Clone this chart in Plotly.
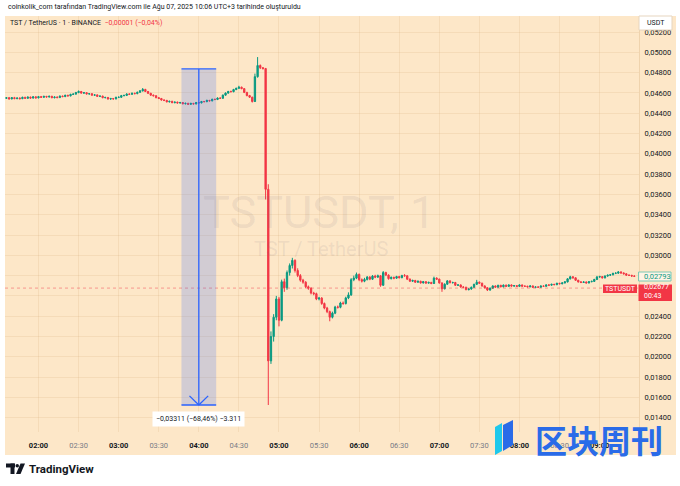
import pandas as pd
import plotly.graph_objects as go

# ---------------- texts ----------------
TITLE = "coinkolik_com tarafından TradingView.com ile Ağu 07, 2025 10:06 UTC+3 tarihinde oluşturuldu"
SYMBOL_LINE = "TST / TetherUS · 1 · BINANCE"
CHANGE_TEXT = "−0,00001 (−0,04%)"
WATERMARK_1 = "TSTUSDT, 1"
WATERMARK_2 = "TST / TetherUS"
CURRENCY = "USDT"
SYMBOL = "TSTUSDT"
RULER_TEXT = "−0,03311 (−68,46%) −3.311"
COUNTDOWN = "00:43"

# ---------------- data (prices in 1e-5 USDT, 2-minute candles) ----------------
DAY = "2025-08-07"
START = "2025-08-07 01:36"
FREQ = "2min"
UNIT = 1e-5

OPEN = [
    4547, 4552, 4541, 4553, 4544, 4549, 4543, 4556, 4547, 4558,
    4549, 4561, 4551, 4563, 4557, 4565, 4560, 4566, 4553, 4559,
    4554, 4568, 4564, 4576, 4571, 4585, 4588, 4603, 4614, 4598,
    4602, 4590, 4592, 4578, 4580, 4566, 4568, 4553, 4555, 4540,
    4544, 4541, 4556, 4557, 4573, 4575, 4589, 4586, 4596, 4593,
    4606, 4620, 4634, 4614, 4596, 4578, 4572, 4553, 4545, 4530,
    4526, 4512, 4517, 4504, 4509, 4501, 4505, 4493, 4497, 4488,
    4496, 4492, 4505, 4502, 4515, 4514, 4526, 4522, 4537, 4535,
    4549, 4547, 4578, 4598, 4614, 4612, 4633, 4645, 4656, 4642,
    4605, 4574, 4558, 4515, 4760, 4870, 4848, 4840, 3650, 1960,
    2200, 2390, 2570, 2360, 2740, 2680, 2830, 2900, 2950, 2850,
    2800, 2755, 2735, 2690, 2675, 2628, 2622, 2570, 2578, 2525,
    2480, 2445, 2390, 2430, 2490, 2488, 2530, 2525, 2580, 2610,
    2760, 2775, 2812, 2760, 2745, 2762, 2785, 2765, 2795, 2785,
    2798, 2705, 2830, 2805, 2770, 2782, 2775, 2790, 2780, 2800,
    2798, 2765, 2745, 2752, 2735, 2744, 2728, 2740, 2726, 2733,
    2722, 2775, 2765, 2728, 2670, 2715, 2748, 2730, 2732, 2705,
    2708, 2688, 2685, 2662, 2668, 2685, 2714, 2735, 2725, 2698,
    2680, 2658, 2676, 2698, 2686, 2704, 2690, 2706, 2694, 2708,
    2697, 2701, 2694, 2708, 2696, 2695, 2690, 2698, 2684, 2688,
    2686, 2697, 2695, 2708, 2706, 2714, 2711, 2724, 2720, 2728,
    2738, 2768, 2788, 2778, 2754, 2738, 2733, 2737, 2728, 2740,
    2743, 2762, 2786, 2790, 2778, 2796, 2804, 2808, 2822, 2824,
    2836, 2826, 2818, 2804, 2802, 2796,
]
HIGH = [
    4559, 4560, 4558, 4561, 4555, 4556, 4563, 4562, 4566, 4564,
    4568, 4567, 4570, 4570, 4573, 4571, 4574, 4572, 4566, 4565,
    4575, 4574, 4583, 4582, 4592, 4596, 4610, 4624, 4619, 4609,
    4607, 4599, 4597, 4587, 4585, 4575, 4573, 4562, 4560, 4551,
    4550, 4563, 4564, 4580, 4582, 4596, 4595, 4603, 4602, 4613,
    4627, 4648, 4640, 4619, 4601, 4584, 4577, 4559, 4550, 4536,
    4531, 4523, 4522, 4515, 4514, 4512, 4510, 4504, 4502, 4503,
    4502, 4511, 4510, 4521, 4521, 4533, 4531, 4543, 4543, 4556,
    4555, 4584, 4605, 4620, 4622, 4640, 4652, 4670, 4662, 4647,
    4610, 4580, 4562, 4790, 4953, 4880, 4855, 4846, 3700, 2250,
    2420, 2600, 2590, 2760, 2770, 2850, 2920, 2975, 2960, 2872,
    2815, 2768, 2745, 2702, 2685, 2640, 2632, 2590, 2588, 2535,
    2492, 2455, 2445, 2502, 2505, 2542, 2545, 2592, 2635, 2775,
    2800, 2830, 2820, 2772, 2778, 2796, 2795, 2805, 2808, 2810,
    2805, 2845, 2838, 2812, 2792, 2790, 2798, 2797, 2808, 2815,
    2804, 2772, 2760, 2758, 2751, 2749, 2747, 2745, 2740, 2738,
    2790, 2783, 2770, 2733, 2724, 2756, 2754, 2740, 2738, 2715,
    2713, 2694, 2690, 2675, 2692, 2720, 2758, 2742, 2730, 2704,
    2685, 2683, 2704, 2703, 2710, 2709, 2712, 2711, 2714, 2713,
    2707, 2706, 2714, 2712, 2702, 2700, 2704, 2703, 2694, 2693,
    2703, 2703, 2714, 2713, 2720, 2719, 2730, 2729, 2734, 2746,
    2775, 2798, 2795, 2783, 2759, 2745, 2744, 2742, 2746, 2750,
    2768, 2797, 2798, 2795, 2802, 2810, 2815, 2828, 2832, 2844,
    2842, 2832, 2823, 2811, 2808, 2802,
]
LOW = [
    4541, 4535, 4536, 4538, 4537, 4536, 4539, 4541, 4542, 4543,
    4544, 4545, 4546, 4550, 4551, 4553, 4554, 4547, 4546, 4547,
    4549, 4557, 4558, 4564, 4565, 4579, 4582, 4597, 4592, 4591,
    4584, 4583, 4572, 4571, 4560, 4559, 4547, 4546, 4534, 4532,
    4535, 4536, 4549, 4551, 4566, 4569, 4579, 4580, 4586, 4587,
    4600, 4614, 4608, 4590, 4572, 4565, 4547, 4539, 4524, 4519,
    4506, 4505, 4498, 4497, 4495, 4494, 4487, 4486, 4481, 4482,
    4485, 4486, 4495, 4496, 4507, 4508, 4515, 4516, 4528, 4529,
    4540, 4542, 4572, 4592, 4605, 4606, 4627, 4639, 4636, 4598,
    4566, 4550, 4505, 4510, 4750, 4835, 4830, 3550, 1525, 1930,
    2150, 2360, 2300, 2350, 2640, 2660, 2800, 2870, 2830, 2785,
    2740, 2720, 2678, 2660, 2615, 2606, 2558, 2556, 2512, 2468,
    2430, 2350, 2378, 2420, 2475, 2478, 2512, 2515, 2568, 2600,
    2745, 2765, 2745, 2732, 2735, 2752, 2755, 2757, 2775, 2776,
    2690, 2698, 2795, 2760, 2762, 2764, 2768, 2772, 2773, 2790,
    2756, 2738, 2738, 2728, 2729, 2721, 2722, 2719, 2720, 2715,
    2717, 2758, 2720, 2640, 2664, 2710, 2724, 2722, 2698, 2698,
    2681, 2677, 2655, 2654, 2661, 2679, 2708, 2718, 2691, 2672,
    2648, 2651, 2670, 2680, 2680, 2684, 2684, 2688, 2689, 2691,
    2690, 2688, 2689, 2690, 2688, 2683, 2684, 2678, 2677, 2679,
    2680, 2688, 2689, 2699, 2700, 2705, 2705, 2713, 2714, 2722,
    2732, 2762, 2771, 2747, 2731, 2726, 2727, 2722, 2722, 2734,
    2737, 2756, 2779, 2771, 2772, 2789, 2798, 2802, 2815, 2818,
    2820, 2811, 2798, 2796, 2789, 2787,
]
CLOSE = [
    4552, 4541, 4553, 4544, 4549, 4543, 4556, 4547, 4558, 4549,
    4561, 4551, 4563, 4557, 4565, 4560, 4566, 4553, 4559, 4554,
    4568, 4564, 4576, 4571, 4585, 4588, 4603, 4614, 4598, 4602,
    4590, 4592, 4578, 4580, 4566, 4568, 4553, 4555, 4540, 4544,
    4541, 4556, 4557, 4573, 4575, 4589, 4586, 4596, 4593, 4606,
    4620, 4634, 4614, 4596, 4578, 4572, 4553, 4545, 4530, 4526,
    4512, 4517, 4504, 4509, 4501, 4505, 4493, 4497, 4488, 4496,
    4492, 4505, 4502, 4515, 4514, 4526, 4522, 4537, 4535, 4549,
    4547, 4578, 4598, 4614, 4612, 4633, 4645, 4656, 4642, 4605,
    4574, 4558, 4515, 4760, 4870, 4848, 4840, 3650, 1960, 2200,
    2390, 2570, 2360, 2740, 2680, 2830, 2900, 2950, 2850, 2800,
    2755, 2735, 2690, 2675, 2628, 2622, 2570, 2578, 2525, 2480,
    2445, 2390, 2430, 2490, 2488, 2530, 2525, 2580, 2610, 2760,
    2775, 2812, 2760, 2745, 2762, 2785, 2765, 2795, 2785, 2798,
    2705, 2830, 2805, 2770, 2782, 2775, 2790, 2780, 2800, 2798,
    2765, 2745, 2752, 2735, 2744, 2728, 2740, 2726, 2733, 2722,
    2775, 2765, 2728, 2670, 2715, 2748, 2730, 2732, 2705, 2708,
    2688, 2685, 2662, 2668, 2685, 2714, 2735, 2725, 2698, 2680,
    2658, 2676, 2698, 2686, 2704, 2690, 2706, 2694, 2708, 2697,
    2701, 2694, 2708, 2696, 2695, 2690, 2698, 2684, 2688, 2686,
    2697, 2695, 2708, 2706, 2714, 2711, 2724, 2720, 2728, 2738,
    2768, 2788, 2778, 2754, 2738, 2733, 2737, 2728, 2740, 2743,
    2762, 2786, 2790, 2778, 2796, 2804, 2808, 2822, 2824, 2836,
    2826, 2818, 2804, 2802, 2796, 2793,
]
assert len(OPEN) == len(HIGH) == len(LOW) == len(CLOSE)

X_TICK_LABELS = ["02:00", "02:30", "03:00", "03:30", "04:00", "04:30", "05:00", "05:30",
                 "06:00", "06:30", "07:00", "07:30", "08:00", "08:30", "09:00"]
Y_TICKS = [0.014, 0.016, 0.018, 0.020, 0.022, 0.024, 0.026, 0.028, 0.030, 0.032,
           0.034, 0.036, 0.038, 0.040, 0.042, 0.044, 0.046, 0.048, 0.050, 0.052]
# 0,02600 and 0,02800 are hidden behind the price labels in the reference
Y_TICK_LABELS = ["0,01400", "0,01600", "0,01800", "0,02000", "0,02200", "0,02400", "",
                 "", "0,03000", "0,03200", "0,03400", "0,03600", "0,03800", "0,04000",
                 "0,04200", "0,04400", "0,04600", "0,04800", "0,05000", "0,05200"]

LAST_PRICE = 0.02677
LAST_PRICE_LABEL = "0,02677"
MARK_PRICE = 0.02793
MARK_PRICE_LABEL = "0,02793"

RULER_START = "2025-08-07 03:47"
RULER_END = "2025-08-07 04:13"
RULER_HIGH = 0.04836
RULER_LOW = 0.01525

X_RANGE = ["2025-08-07 01:34:56", "2025-08-07 09:29:28"]
Y_RANGE = [0.012591, 0.053576]

# ---------------- style ----------------
FONT = "Roboto, Liberation Sans, sans-serif"
BG = "#FDE7C8"
GRID = "rgba(200,150,90,0.14)"
TEXT = "#131722"
MUTED = "#787B86"
UP = "#089981"
DOWN = "#F23645"
BLUE = "#2962FF"
W, H = 680, 486
PL, PR, PT, PB = 5, 639, 16, 432


def px(x):
    return (x - PL) / (PR - PL)


def py(y):
    return (PB - y) / (PB - PT)


times = pd.date_range(START, periods=len(CLOSE), freq=FREQ)
o = [v * UNIT for v in OPEN]
h = [v * UNIT for v in HIGH]
l = [v * UNIT for v in LOW]
c = [v * UNIT for v in CLOSE]

fig = go.Figure()
fig.add_trace(go.Candlestick(
    x=times, open=o, high=h, low=l, close=c,
    increasing=dict(line=dict(color=UP, width=1), fillcolor=UP),
    decreasing=dict(line=dict(color=DOWN, width=1), fillcolor=DOWN),
    whiskerwidth=0, showlegend=False, hoverinfo="skip",
))

xt_vals = [f"{DAY} {t}" for t in X_TICK_LABELS]
xt_text = [f"<b>{t}</b>" if t.endswith(":00") else f"<span style='color:{MUTED}'>{t}</span>"
           for t in X_TICK_LABELS]

rs, re_ = pd.Timestamp(RULER_START), pd.Timestamp(RULER_END)
rmid = rs + (re_ - rs) / 2
arrow_dx = pd.Timedelta(minutes=7)
arrow_dy = 0.0009

shapes = [
    dict(type="rect", xref="paper", yref="paper", x0=px(5), x1=px(676), y0=py(455), y1=py(PT),
         fillcolor=BG, line=dict(width=0), layer="below"),
    # last price line
    dict(type="line", xref="paper", yref="y", x0=0, x1=1, y0=LAST_PRICE, y1=LAST_PRICE,
         line=dict(color="rgba(242,54,69,0.45)", width=1, dash="dot")),
    # ruler
    dict(type="rect", xref="x", yref="y", x0=rs, x1=re_, y0=RULER_LOW, y1=RULER_HIGH,
         fillcolor="rgba(41,98,255,0.2)", line=dict(width=0)),
    dict(type="line", xref="x", yref="y", x0=rs, x1=re_, y0=RULER_HIGH, y1=RULER_HIGH,
         line=dict(color=BLUE, width=1.3)),
    dict(type="line", xref="x", yref="y", x0=rs, x1=re_, y0=RULER_LOW, y1=RULER_LOW,
         line=dict(color=BLUE, width=1.3)),
    dict(type="line", xref="x", yref="y", x0=rmid, x1=rmid, y0=RULER_HIGH, y1=RULER_LOW,
         line=dict(color=BLUE, width=1.3)),
    dict(type="line", xref="x", yref="y", x0=rmid - arrow_dx, x1=rmid, y0=RULER_LOW + arrow_dy, y1=RULER_LOW,
         line=dict(color=BLUE, width=1.3)),
    dict(type="line", xref="x", yref="y", x0=rmid + arrow_dx, x1=rmid, y0=RULER_LOW + arrow_dy, y1=RULER_LOW,
         line=dict(color=BLUE, width=1.3)),
    # USDT box
    dict(type="rect", xref="paper", yref="paper", x0=px(639), x1=px(672), y0=py(30), y1=py(PT),
         fillcolor="white", line=dict(color="#E6D5BF", width=1), layer="above"),
    # green price label
    dict(type="rect", xref="paper", yref="paper", x0=px(638.5), x1=px(671), y0=py(281), y1=py(272),
         fillcolor="rgba(255,255,255,0.55)", line=dict(color="#7CC9B5", width=1), layer="above"),
    # red price label
    dict(type="rect", xref="paper", yref="paper", x0=px(638.5), x1=px(672), y0=py(301), y1=py(284.5),
         fillcolor=DOWN, line=dict(width=0), layer="above"),
    dict(type="rect", xref="paper", yref="paper", x0=px(603), x1=px(637), y0=py(293), y1=py(284.5),
         fillcolor=DOWN, line=dict(width=0), layer="above"),
    # TradingView logo
    dict(type="rect", xref="paper", yref="paper", x0=px(6), x1=px(15), y0=py(467.5), y1=py(463.5),
         fillcolor=TEXT, line=dict(width=0), layer="above"),
    dict(type="rect", xref="paper", yref="paper", x0=px(10.5), x1=px(14.5), y0=py(474), y1=py(463.5),
         fillcolor=TEXT, line=dict(width=0), layer="above"),
    dict(type="circle", xref="paper", yref="paper", x0=px(15.5), x1=px(19), y0=py(467.5), y1=py(464),
         fillcolor=TEXT, line=dict(width=0), layer="above"),
    dict(type="path", xref="paper", yref="paper",
         path=f"M {px(20.5)} {py(463.5)} L {px(25)} {py(463.5)} L {px(20.5)} {py(474)} L {px(16)} {py(474)} Z",
         fillcolor=TEXT, line=dict(width=0), layer="above"),
    # site watermark logo bars
    dict(type="path", xref="paper", yref="paper",
         path=f"M {px(495)} {py(455)} L {px(502)} {py(451)} L {px(502)} {py(423)} L {px(495)} {py(427)} Z",
         fillcolor="#1EC8EC", line=dict(width=0), layer="above"),
    dict(type="path", xref="paper", yref="paper",
         path=f"M {px(503)} {py(451)} L {px(513)} {py(445)} L {px(513)} {py(420)} L {px(503)} {py(425)} Z",
         fillcolor="#2A6BE8", line=dict(width=0), layer="above"),
]

ann = [
    dict(text=TITLE, xref="paper", yref="paper", x=px(6), y=py(7), xanchor="left", yanchor="middle",
         showarrow=False, font=dict(size=7, color=TEXT)),
    dict(text=f"{SYMBOL_LINE}  <span style='color:{DOWN}'>{CHANGE_TEXT}</span>", xref="paper", yref="paper",
         x=px(8), y=py(22.5), xanchor="left", yanchor="middle", showarrow=False, font=dict(size=7, color=TEXT)),
    dict(text=WATERMARK_1, xref="paper", yref="paper", x=px(319), y=py(212), xanchor="center", yanchor="middle",
         showarrow=False, font=dict(size=45, color="rgba(105,100,115,0.11)")),
    dict(text=WATERMARK_2, xref="paper", yref="paper", x=px(321), y=py(249), xanchor="center", yanchor="middle",
         showarrow=False, font=dict(size=20, color="rgba(105,100,115,0.11)")),
    dict(text=CURRENCY, xref="paper", yref="paper", x=px(655.5), y=py(23), xanchor="center", yanchor="middle",
         showarrow=False, font=dict(size=7, color=TEXT)),
    dict(text=MARK_PRICE_LABEL, xref="paper", yref="y", x=px(642), y=MARK_PRICE, xanchor="left", yanchor="middle",
         showarrow=False, font=dict(size=7.5, color=UP)),
    dict(text=LAST_PRICE_LABEL, xref="paper", yref="y", x=px(642), y=LAST_PRICE, yshift=1, xanchor="left",
         yanchor="middle", showarrow=False, font=dict(size=7, color="white")),
    dict(text=COUNTDOWN, xref="paper", yref="y", x=px(642), y=LAST_PRICE, yshift=-7.5, xanchor="left",
         yanchor="middle", showarrow=False, font=dict(size=7, color="white")),
    dict(text=SYMBOL, xref="paper", yref="paper", x=px(620), y=py(289), xanchor="center", yanchor="middle",
         showarrow=False, font=dict(size=7, color="white")),
    dict(text=RULER_TEXT, xref="x", yref="paper", x=rmid, y=py(419), xanchor="center", yanchor="middle",
         showarrow=False, bgcolor="white", borderpad=3, font=dict(size=7, color=TEXT)),
    dict(text="<b>TradingView</b>", xref="paper", yref="paper", x=px(27), y=py(469), xanchor="left",
         yanchor="middle", showarrow=False, font=dict(size=11.5, color=TEXT)),
    dict(text="<b>区块周刊</b>", xref="paper", yref="paper", x=px(599), y=py(438.5), xanchor="center",
         yanchor="middle", showarrow=False,
         font=dict(size=32, color="#2A6BE8", family="Noto Sans CJK SC")),
]

fig.update_layout(
    width=W, height=H,
    margin=dict(l=PL, r=W - PR, t=PT, b=H - PB, pad=0),
    paper_bgcolor="white", plot_bgcolor="rgba(0,0,0,0)",
    font=dict(family=FONT, size=7.5, color=TEXT),
    showlegend=False, hovermode=False,
    shapes=shapes, annotations=ann,
    xaxis=dict(type="date", range=X_RANGE, rangeslider=dict(visible=False),
               tickmode="array", tickvals=xt_vals, ticktext=xt_text,
               showgrid=True, gridcolor=GRID, gridwidth=1, zeroline=False, showline=False,
               ticks="", ticklabelstandoff=7, tickfont=dict(size=7.5, color=TEXT), fixedrange=True),
    yaxis=dict(side="right", range=Y_RANGE, tickmode="array", tickvals=Y_TICKS, ticktext=Y_TICK_LABELS,
               showgrid=True, gridcolor=GRID, gridwidth=1, zeroline=False,
               showline=True, linecolor="rgba(200,150,90,0.25)", linewidth=1,
               ticks="", ticklabelstandoff=3, tickfont=dict(size=7.5, color=TEXT), fixedrange=True),
)

fig.write_html("out.html", config={"displayModeBar": False, "staticPlot": True},
               post_script="document.body.style.margin='0';")
